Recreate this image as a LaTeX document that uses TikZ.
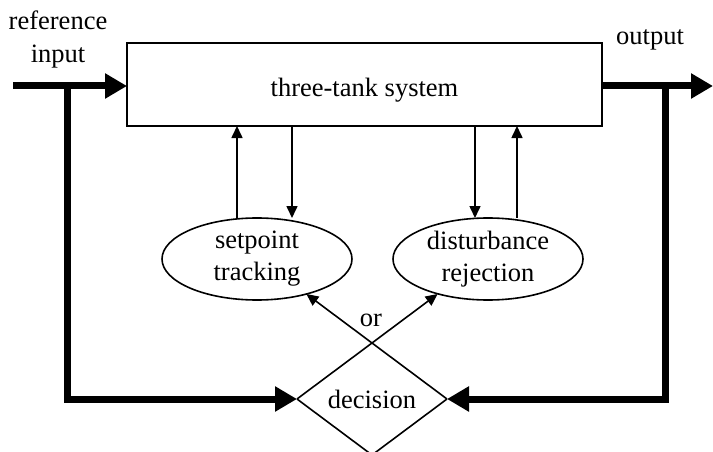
\documentclass[tikz,border=0pt]{standalone}
\usepackage{fontspec}
\setmainfont{Liberation Serif}
\usetikzlibrary{arrows.meta,shapes.geometric,calc}
\begin{document}
\begin{tikzpicture}[x=1pt,y=-1pt,
  thinln/.style={line width=1.6pt},
  thickln/.style={line width=7pt},
  thinarr/.style={thinln,-{Triangle[length=12pt,width=11pt]}},
  thickarr/.style={thickln,-{Triangle[length=22pt,width=24pt]}},
  lbl/.style={font=\fontsize{26.5}{32}\selectfont, inner sep=0pt},
  ovalbox/.style={lbl, ellipse, draw, thinln, minimum width=190pt, minimum height=82pt, align=center, outer sep=0pt},
]
\useasboundingbox (0,0) rectangle (713,452);
% main box
\node[lbl, draw, thinln, minimum width=475pt, minimum height=83pt,
      text height=28pt, text depth=5pt, outer sep=0pt] (sys) at (364.5,84.5) {three-tank system};
% ellipses
\node[ovalbox] (sp) at (257,259) {setpoint\\tracking};
\node[ovalbox] (dr) at (488,259) {disturbance\\rejection};
% decision diamond
\node[lbl, diamond, minimum width=150pt, minimum height=112pt, outer sep=0pt] (dec) at (372,399) {decision};
\draw[thinln, line join=miter] (dec.west) -- (dec.south) -- (dec.east);
\draw[thinarr] (dec.east) -- ($(dec.east)!1.875!(dec.north)$);
\draw[thinarr] (dec.west) -- ($(dec.west)!1.875!(dec.north)$);
\node[lbl, anchor=base] (orl) at (371,326) {or};
% labels
\node[lbl, anchor=base] (ref1) at (58,30) {reference};
\node[lbl, anchor=base] (ref2) at (58,63) {input};
\node[lbl, anchor=base] (outl) at (650,45) {output};
% thick signal lines
\coordinate (inS) at (13,86);
\coordinate (inJ) at (67,86);
\coordinate (outJ) at (665,86);
\coordinate (outE) at (713,86);
\draw[thickarr] (inS) -- (inS -| sys.west);
\draw[thickarr] (outE -| sys.east) -- (outE);
\draw[thickarr, line join=miter] (inJ) -- (inJ |- dec.west) -- (dec.west);
\draw[thickarr, line join=miter] (outJ) -- (outJ |- dec.east) -- (dec.east);
% thin vertical arrows
\coordinate (v1) at (237,0);
\coordinate (v2) at (292,0);
\coordinate (v3) at (475,0);
\coordinate (v4) at (517,0);
\draw[thinarr] (sp.north -| v1) -- (sys.south -| v1);
\draw[thinarr] (sys.south -| v2) -- (sp.north -| v2);
\draw[thinarr] (sys.south -| v3) -- (dr.north -| v3);
\draw[thinarr] (dr.north -| v4) -- (sys.south -| v4);
\end{tikzpicture}
\end{document}
